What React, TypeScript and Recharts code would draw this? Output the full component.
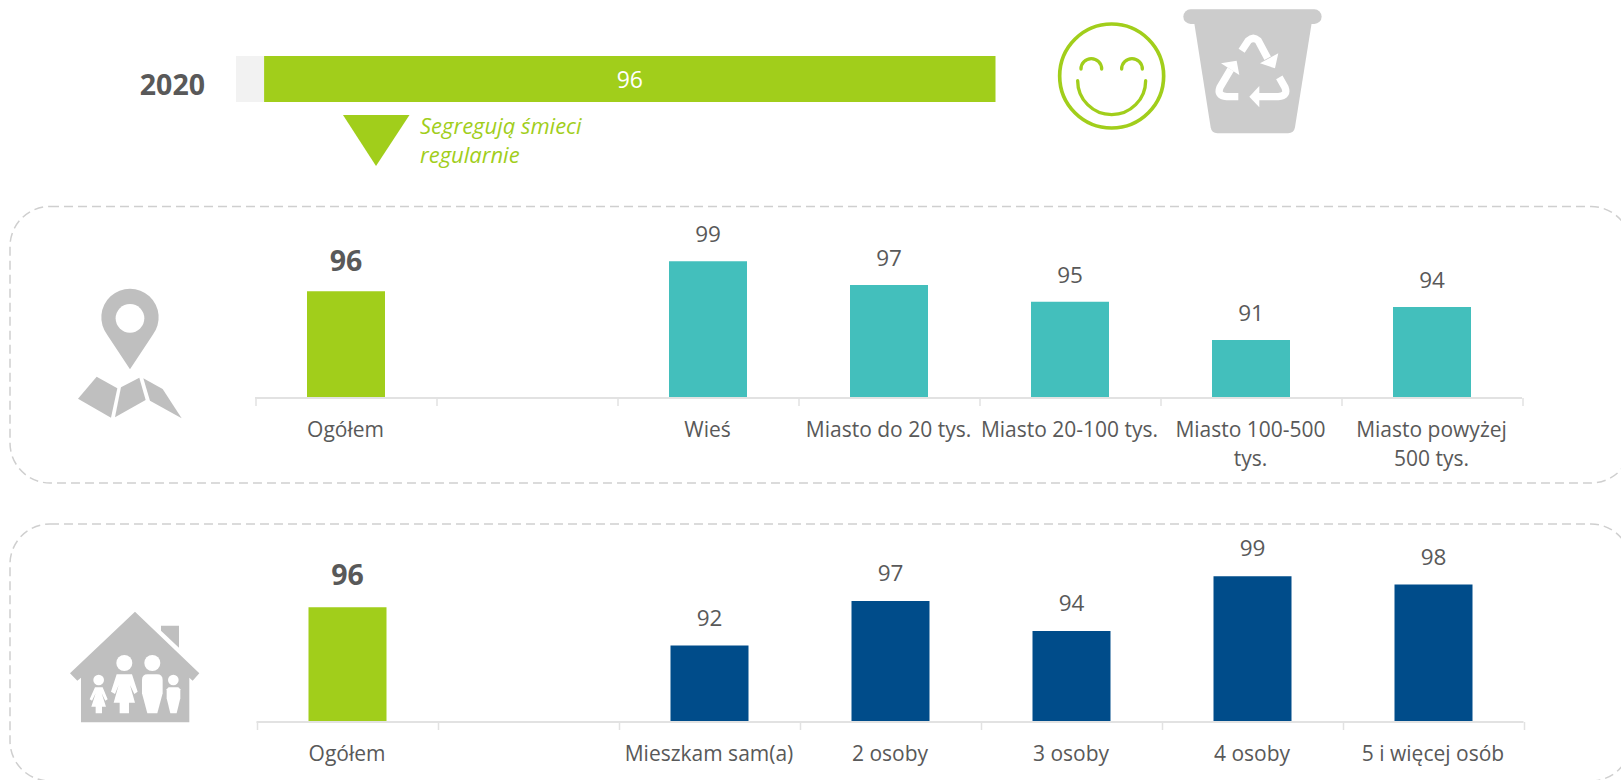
import React from "react";
import { BarChart, Bar, XAxis, YAxis, Cell, LabelList } from "recharts";

const FONT = '"Open Sans", sans-serif';
const GREEN = "#A1CE1B";
const TEAL = "#43BFBC";
const NAVY = "#004C8A";
const TEXT = "#595959";
const AXIS = "#E2E2E2";

const yearLabel = "2020";
const topOther = [3.7];
const topMain = [96.3];
const topLabels = ["96"];

const placeCategories = ["Ogółem", " ", "Wieś", "Miasto do 20 tys.", "Miasto 20-100 tys.", "Miasto 100-500\ntys.", "Miasto powyżej\n500 tys."];
const placeValues = [95.96, null, 99.04, 96.6, 94.9, 90.96, 94.36];
const placeLabels = ["96", "", "99", "97", "95", "91", "94"];

const homeCategories = ["Ogółem", " ", "Mieszkam sam(a)", "2 osoby", "3 osoby", "4 osoby", "5 i więcej osób"];
const homeValues = [96.1, null, 92.4, 96.7, 93.8, 99.1, 98.3];
const homeLabels = ["96", "", "92", "97", "94", "99", "98"];

const build = (cats: string[], vals: (number | null)[], labels: string[]) =>
  cats.map((name, i) => ({ name, value: vals[i], label: labels[i] }));

const placeData = build(placeCategories, placeValues, placeLabels);
const homeData = build(homeCategories, homeValues, homeLabels);
const topData = [{ name: yearLabel, other: topOther[0], main: topMain[0], label: topLabels[0] }];

const BAND = 181;

const CategoryTick = (props: any) => {
  const { x, y, payload, index, lastIndex, textDy } = props;
  const lines = String(payload.value).split("\n");
  return (
    <g>
      <line x1={x - BAND / 2 + 1} x2={x - BAND / 2 + 1} y1={y} y2={y + 8} stroke={AXIS} strokeWidth={1.5} />
      {index === lastIndex && <line x1={x + BAND / 2 + 1} x2={x + BAND / 2 + 1} y1={y} y2={y + 8} stroke={AXIS} strokeWidth={1.5} />}
      <text x={x} y={y + textDy} textAnchor="middle" fontFamily={FONT} fontSize={21} fill={TEXT}>
        {lines.map((l, i) => (
          <tspan key={i} x={x} dy={i === 0 ? 0 : 29}>{l}</tspan>
        ))}
      </text>
    </g>
  );
};

const ValueLabel = (props: any) => {
  const { x, y, width, value, index, plainUp, boldUp } = props;
  if (!value) return null;
  const bold = index === 0;
  return (
    <text x={x + width / 2} y={y - (bold ? boldUp : plainUp)} textAnchor="middle" fontFamily={FONT}
      fontSize={bold ? 28.5 : 22.5} fontWeight={bold ? 700 : 400} fill={TEXT}>
      {value}
    </text>
  );
};

const TopLabel = (props: any) => {
  const { x, y, width, height, value } = props;
  return (
    <text x={x + width / 2} y={y + height / 2 + 9} textAnchor="middle" fontFamily={FONT} fontSize={23} fill="#FFFFFF">
      {value}
    </text>
  );
};

const YearTick = (props: any) => (
  <text x={205} y={props.y + 16} textAnchor="end" fontFamily={FONT} fontSize={28.5} fontWeight={700} fill={TEXT}>
    {props.payload.value}
  </text>
);

const Panel = ({ data, color, left, width, height, top, marginTop, axisHeight, textDy, plainUp, boldUp }: any) => (
  <div style={{ position: "absolute", left: 0, top }}>
    <BarChart width={width} height={height} data={data}
      margin={{ top: marginTop, right: width - left - BAND * 7, bottom: 0, left }} barCategoryGap={0}>
      <YAxis hide domain={[85, 100]} />
      <XAxis dataKey="name" interval={0} height={axisHeight} tickSize={0} tickMargin={0}
        axisLine={{ stroke: AXIS, strokeWidth: 2 }} tickLine={false}
        tick={<CategoryTick lastIndex={data.length - 1} textDy={textDy} />} />
      <Bar dataKey="value" barSize={78} isAnimationActive={false}>
        {data.map((_: any, i: number) => <Cell key={i} fill={i === 0 ? GREEN : color} />)}
        <LabelList dataKey="label" content={<ValueLabel plainUp={plainUp} boldUp={boldUp} />} />
      </Bar>
    </BarChart>
  </div>
);

const Decor = () => (
  <svg width={1621} height={780} style={{ position: "absolute", left: 0, top: 0 }}>
    <rect x={10} y={206.5} width={1621} height={276.5} rx={40} fill="none" stroke="#CFCFCF" strokeWidth={1.5} strokeDasharray="9 5" />
    <rect x={10} y={524} width={1621} height={257} rx={40} fill="none" stroke="#CFCFCF" strokeWidth={1.5} strokeDasharray="9 5" />

    <polygon points="343,115 409.5,115 376,166" fill={GREEN} />
    <text fontFamily={FONT} fontStyle="italic" fontSize={22} fill={GREEN}>
      <tspan x={420} y={134}>Segregują śmieci</tspan>
      <tspan x={420} y={163}>regularnie</tspan>
    </text>

    {/* smiley */}
    <g transform="translate(1000,0) scale(0.3333)" fill="none" stroke={GREEN} strokeLinecap="round">
      <circle cx={335} cy={228} r={156} strokeWidth={11} />
      <path d="M243 207 A31 31 0 0 1 305 207" strokeWidth={10} />
      <path d="M365 207 A31 31 0 0 1 427 207" strokeWidth={10} />
      <path d="M233 242 A102 102 0 0 0 437 242" strokeWidth={10} />
    </g>

    {/* bin */}
    <g transform="translate(1000,0) scale(0.3333)">
      <rect x={550} y={28} width={415} height={44} rx={22} fill="#CCCCCC" />
      <path d="M583 70 L935 70 L885 382 Q882 400 864 400 L652 400 Q635 400 632 382 Z" fill="#CCCCCC" />
      <g fill="none" stroke="#FFFFFF" strokeWidth={22}>
        <path d="M725 152 L745 122 Q760 108 775 122 L803 175" />
        <path d="M715 290 L680 290 Q650 288 660 262 L692 208" />
        <path d="M838 232 L855 262 Q865 288 835 290 L775 290" />
      </g>
      <g fill="#FFFFFF">
        <polygon points="835,160 825,205 780,190" />
        <polygon points="663,190 710,182 718,225" />
        <polygon points="778,258 748,290 778,322" />
      </g>
    </g>

    {/* map pin */}
    <g transform="translate(0,260) scale(0.3333)" fill="#BFBFBF">
      <path d="M390 328 L322 225 A86 86 0 1 1 458 225 Z" />
      <circle cx={390} cy={175} r={43} fill="#FFFFFF" />
      <polygon points="290,350 352,385 333,473 234,416" />
      <polygon points="418,353 437,420 345,472 363,382" />
      <polygon points="430,355 488,387 545,475 450,422" />
    </g>

    {/* house */}
    <g transform="translate(0,580) scale(0.3333)" fill="#BFBFBF">
      <polygon points="405,95 598,280 578,302 568,293 568,427 243,427 243,293 232,302 210,280" />
      <polygon points="483,137 537,137 537,203 483,152" />
      <g fill="#FFFFFF">
        <circle cx={296} cy={300} r={16} />
        <circle cx={373} cy={249} r={24} />
        <circle cx={457} cy={249} r={24} />
        <circle cx={520} cy={300} r={16} />
        <polygon points="350,283 396,283 413,335 403,342 390,315 405,368 387,368 387,400 359,400 359,368 341,368 356,315 345,342 333,335" />
        <path d="M426 300 Q426 283 443 283 L471 283 Q488 283 488 300 L488 340 L472 400 L442 400 L426 340 Z" />
        <polygon points="500,328 506,322 535,322 541,328 541,355 530,400 511,400 500,355" />
        <polygon points="285,322 308,322 323,358 316,362 305,340 318,380 306,380 306,400 287,400 287,380 274,380 287,340 276,362 269,358" />
      </g>
    </g>
  </svg>
);

export default function App() {
  return (
    <div style={{ position: "absolute", left: 0, top: 0, width: 1621, height: 780, overflow: "hidden", background: "#FFFFFF" }}>
      <Decor />
      <div style={{ position: "absolute", left: 0, top: 30 }}>
        <BarChart layout="vertical" width={1100} height={98} data={topData}
          margin={{ top: 0, right: 104.5, bottom: 0, left: 0 }} barCategoryGap={0}>
          <XAxis type="number" hide domain={[0, 100]} />
          <YAxis type="category" dataKey="name" width={236} axisLine={false} tickLine={false} tick={<YearTick />} />
          <Bar dataKey="other" stackId="a" fill="#F2F2F2" barSize={46} isAnimationActive={false} />
          <Bar dataKey="main" stackId="a" fill={GREEN} barSize={46} isAnimationActive={false}>
            <LabelList dataKey="label" content={<TopLabel />} />
          </Bar>
        </BarChart>
      </div>
      <Panel data={placeData} color={TEAL} left={255} width={1621} height={270} top={206} marginTop={46} axisHeight={78} textDy={39} plainUp={19} boldUp={20} />
      <Panel data={homeData} color={NAVY} left={256.5} width={1621} height={256} top={524} marginTop={43} axisHeight={58} textDy={39} plainUp={20} boldUp={22} />
    </div>
  );
}
